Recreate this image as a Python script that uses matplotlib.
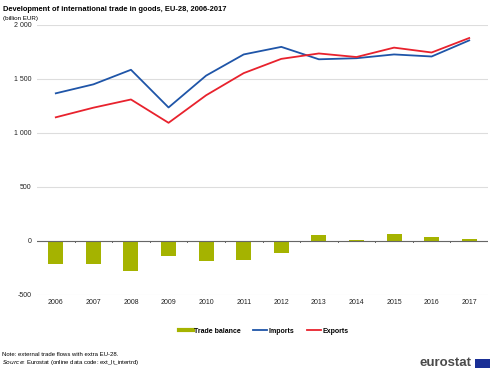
import numpy as np
import matplotlib.pyplot as plt
from matplotlib.patches import Rectangle
from matplotlib.lines import Line2D

# Data (billion EUR)
years = ['2006', '2007', '2008', '2009', '2010', '2011', '2012',
         '2013', '2014', '2015', '2016', '2017']
imports = [1367, 1450, 1585, 1236, 1531, 1727, 1797, 1682, 1692, 1727, 1708, 1857]
exports = [1145, 1234, 1310, 1094, 1349, 1554, 1686, 1736, 1703, 1790, 1745, 1879]
balance = [-212, -214, -275, -142, -182, -173, -111, 54, 11, 63, 37, 22]
yticks = [-500, 0, 500, 1000, 1500, 2000]
ytick_labels = ['-500', '0', '500', '1 000', '1 500', '2 000']

c_bar = '#a5b300'
c_imp = '#1f55a8'
c_exp = '#e8222d'

plt.rcParams['font.family'] = ['Liberation Sans', 'DejaVu Sans']

fig = plt.figure(figsize=(5, 3.78), dpi=100)
ax = fig.add_axes([0.074, 0.2196, 0.902, 0.7144])

x = np.arange(len(years))
ax.bar(x, balance, width=0.4, color=c_bar, zorder=3)
ax.plot(x, imports, color=c_imp, lw=1.3, zorder=4)
ax.plot(x, exports, color=c_exp, lw=1.3, zorder=4)

ax.set_xlim(-0.5, len(years) - 0.5)
ax.set_ylim(-500, 2000)
ax.set_yticks(yticks)
ax.set_yticklabels(ytick_labels)
ax.grid(axis='y', color='#dddddd', lw=0.8, zorder=0)
ax.axhline(0, color='#666666', lw=0.8, zorder=5)
for s in ax.spines.values():
    s.set_visible(False)
ax.tick_params(axis='y', length=0, labelsize=5, pad=4, colors='#222222')
ax.set_xticks(x)
ax.set_xticklabels(years)
ax.tick_params(axis='x', length=0, labelsize=5, pad=3, colors='#222222')

# small tick marks on zero line at category boundaries
for b in np.arange(0.5, len(years) - 1, 1.0):
    ax.plot([b, b], [0, -14], color='#666666', lw=0.7, zorder=5)

fig.text(0.006, 0.984, 'Development of international trade in goods, EU-28, 2006-2017',
         fontsize=5.4, fontweight='bold', va='top', ha='left')
fig.text(0.006, 0.958, '(billion EUR)', fontsize=4.5, va='top', ha='left')

handles = [Line2D([], [], color=c_bar, lw=3),
           Line2D([], [], color=c_imp, lw=1.3),
           Line2D([], [], color=c_exp, lw=1.3)]
labels = ['Trade balance', 'Imports', 'Exports']
leg = fig.legend(handles, labels, loc='center', bbox_to_anchor=(0.527, 0.124), ncol=3,
                 frameon=False, fontsize=5, handlelength=2, columnspacing=1.8,
                 handletextpad=0.2)
for t in leg.get_texts():
    t.set_fontweight('bold')

fig.text(0.004, 0.062, 'Note: external trade flows with extra EU-28.', fontsize=4.3, va='center')
fig.text(0.004, 0.04, r'$\it{Source}$: Eurostat (online data code: ext_lt_intertrd)',
         fontsize=4.3, va='center')

# eurostat logo
fig.text(0.944, 0.040, 'eurostat', fontsize=9.5, color='#4a4a4a', ha='right', va='center',
         fontweight='bold')
fig.patches.append(Rectangle((0.950, 0.027), 0.030, 0.023, transform=fig.transFigure,
                             facecolor='#1a2f96', edgecolor='none'))

fig.savefig('out.png', dpi=100)
